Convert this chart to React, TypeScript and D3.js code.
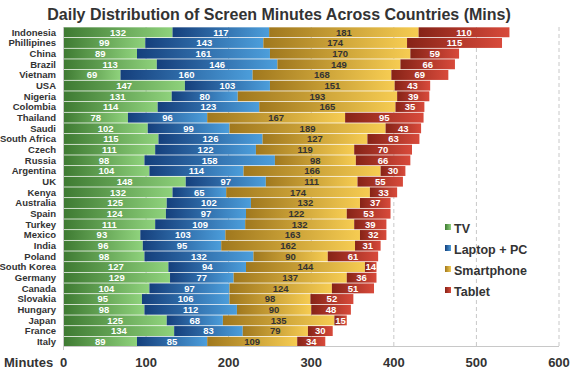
import { useEffect, useRef } from "react";
import * as d3 from "d3";

const countries = [
  "Indonesia", "Phillipines", "China", "Brazil", "Vietnam", "USA", "Nigeria", "Colombia",
  "Thailand", "Saudi", "South Africa", "Czech", "Russia", "Argentina", "UK", "Kenya",
  "Australia", "Spain", "Turkey", "Mexico", "India", "Poland", "South Korea", "Germany",
  "Canada", "Slovakia", "Hungary", "Japan", "France", "Italy",
];
const tv = [132, 99, 89, 113, 69, 147, 131, 114, 78, 102, 115, 111, 98, 104, 148, 132, 125, 124, 111, 93, 96, 98, 127, 129, 104, 95, 98, 125, 134, 89];
const laptop = [117, 143, 161, 146, 160, 103, 80, 123, 96, 99, 126, 122, 158, 114, 97, 65, 102, 97, 109, 103, 95, 132, 94, 77, 97, 106, 112, 68, 83, 85];
const smartphone = [181, 174, 170, 149, 168, 151, 193, 165, 167, 189, 127, 119, 98, 166, 111, 174, 132, 122, 132, 163, 162, 90, 144, 137, 124, 98, 90, 135, 79, 109];
const tablet = [110, 115, 59, 66, 69, 43, 39, 35, 95, 43, 63, 70, 66, 30, 55, 33, 37, 53, 39, 32, 31, 61, 14, 36, 51, 52, 48, 15, 30, 34];
const seriesNames = ["TV", "Laptop + PC", "Smartphone", "Tablet"];
const xTicks = [0, 100, 200, 300, 400, 500, 600];

const palette = [
  { dark: "#3e7a32", light: "#8fd27c", text: "#ffffff" },
  { dark: "#153f7c", light: "#4c9edb", text: "#ffffff" },
  { dark: "#a0781e", light: "#f6cc52", text: "#333333" },
  { dark: "#862317", light: "#d84a3b", text: "#ffffff" },
];

export default function App() {
  const ref = useRef<SVGSVGElement>(null);

  useEffect(() => {
    const svg = d3.select(ref.current);
    svg.selectAll("*").remove();
    const font = "'Liberation Sans', Arial, sans-serif";

    const x = d3.scaleLinear().domain([0, 600]).range([63.5, 559]);
    const y = d3.scaleBand().domain(countries).range([27, 347]).paddingInner(0.07).paddingOuter(0.03);

    const defs = svg.append("defs");
    palette.forEach((p, i) => {
      const g = defs.append("linearGradient").attr("id", "grad" + i)
        .attr("x1", 0).attr("x2", 1).attr("y1", 0).attr("y2", 0);
      g.append("stop").attr("offset", "0%").attr("stop-color", p.dark);
      g.append("stop").attr("offset", "100%").attr("stop-color", p.light);
    });

    svg.append("text")
      .attr("x", 279).attr("y", 20)
      .attr("text-anchor", "middle")
      .attr("font-family", font).attr("font-weight", "bold").attr("font-size", 16)
      .attr("fill", "#333")
      .text("Daily Distribution of Screen Minutes Across Countries (Mins)");

    // gridlines
    svg.append("g").selectAll("line")
      .data(xTicks.slice(1))
      .join("line")
      .attr("x1", d => x(d)).attr("x2", d => x(d))
      .attr("y1", 27).attr("y2", 346)
      .attr("stroke", "#c8c8c8").attr("stroke-dasharray", "4,3");

    const rows = countries.map((c, i) => ({ c, vals: [tv[i], laptop[i], smartphone[i], tablet[i]] }));
    const stacked = d3.stack<any>().keys([0, 1, 2, 3] as any).value((d: any, k: any) => d.vals[k])(rows as any);

    stacked.forEach((layer, si) => {
      const g = svg.append("g");
      g.selectAll("rect")
        .data(layer)
        .join("rect")
        .attr("x", d => x(d[0]))
        .attr("y", (d: any) => y(d.data.c)!)
        .attr("width", d => x(d[1]) - x(d[0]))
        .attr("height", y.bandwidth())
        .attr("fill", `url(#grad${si})`);
      g.selectAll("text")
        .data(layer)
        .join("text")
        .attr("x", d => (x(d[0]) + x(d[1])) / 2)
        .attr("y", (d: any) => y(d.data.c)! + y.bandwidth() / 2 + 3.3)
        .attr("text-anchor", "middle")
        .attr("font-family", font).attr("font-weight", "bold").attr("font-size", 9.5)
        .attr("fill", palette[si].text)
        .text(d => d[1] - d[0]);
    });

    // country labels
    svg.append("g").selectAll("text")
      .data(countries)
      .join("text")
      .attr("x", 56)
      .attr("y", d => y(d)! + y.bandwidth() / 2 + 3.3)
      .attr("text-anchor", "end")
      .attr("font-family", font).attr("font-weight", "bold").attr("font-size", 9.5)
      .attr("fill", "#333")
      .text(d => d);

    // x axis
    svg.append("line").attr("x1", 63.5).attr("x2", 559).attr("y1", 346.5).attr("y2", 346.5)
      .attr("stroke", "#c8c8c8");
    svg.append("line").attr("x1", 63.5).attr("x2", 63.5).attr("y1", 27).attr("y2", 350)
      .attr("stroke", "#c8c8c8");
    svg.append("g").selectAll("text")
      .data(xTicks)
      .join("text")
      .attr("x", d => x(d))
      .attr("y", 367)
      .attr("text-anchor", "middle")
      .attr("font-family", font).attr("font-weight", "bold").attr("font-size", 13)
      .attr("fill", "#333")
      .text(d => d);
    svg.append("text")
      .attr("x", 4).attr("y", 367)
      .attr("font-family", font).attr("font-weight", "bold").attr("font-size", 13)
      .attr("fill", "#333")
      .text("Minutes");

    // legend
    const lg = svg.append("g");
    seriesNames.forEach((name, i) => {
      const ly = 228.5 + i * 21;
      lg.append("rect").attr("x", 445).attr("y", ly - 4.5).attr("width", 6).attr("height", 6)
        .attr("fill", `url(#grad${i})`);
      lg.append("text").attr("x", 454).attr("y", ly + 4.5)
        .attr("font-family", font).attr("font-weight", "bold").attr("font-size", 12.5)
        .attr("fill", "#333")
        .text(name);
    });
  }, []);

  return (
    <svg ref={ref} width={576} height={371}
      style={{ position: "absolute", left: 0, top: 0, background: "#fff" }} />
  );
}
